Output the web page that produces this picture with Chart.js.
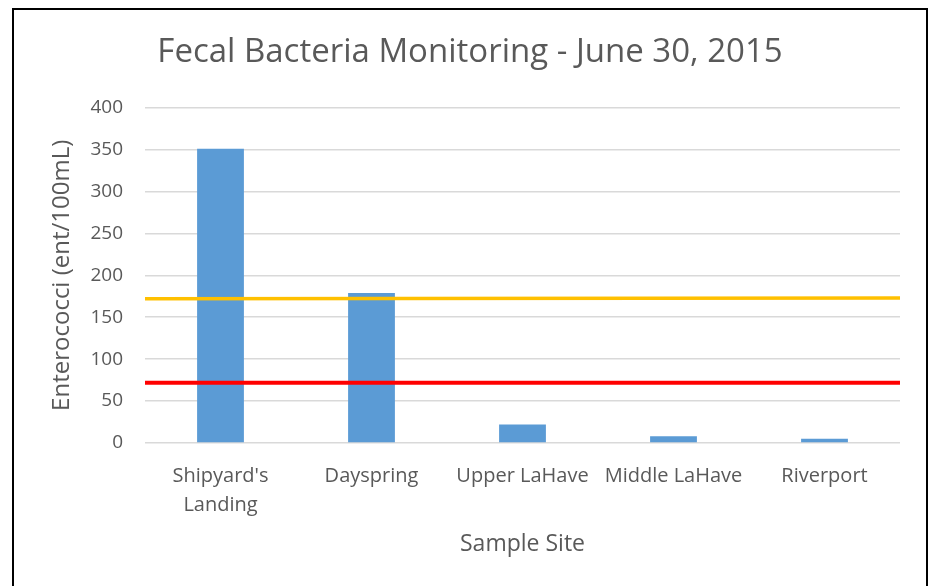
<!DOCTYPE html>
<html>
<head>
<meta charset="utf-8">
<script src="https://cdn.jsdelivr.net/npm/chart.js@4"></script>
<style>
  html, body { margin: 0; padding: 0; background: #fff; overflow: hidden; }
  #frame {
    position: absolute; left: 12px; top: 8px;
    width: 912px; height: 700px;
    border: 2px solid #000; border-bottom: none;
  }
  #chart { position: absolute; left: 0; top: 0; }
</style>
</head>
<body>
<div id="frame"></div>
<canvas id="chart" width="932" height="586"></canvas>
<script>
'use strict';

// Data
const sites = [["Shipyard's", 'Landing'], 'Dayspring', 'Upper LaHave', 'Middle LaHave', 'Riverport'];
const enterococci = [351, 179, 22, 8, 5];
const yellowLine = [172, 173];   // left end, right end
const redLine = [72, 72];
const yMax = 400;
const yStep = 50;

const TEXT = '#595959';
const FONT = "'Open Sans', sans-serif";

// horizontal reference lines run across the whole plot on a hidden 0..1 axis
function spanLine(vals) {
  return [{ x: 0, y: vals[0] }, { x: 1, y: vals[1] }];
}

new Chart(document.getElementById('chart'), {
  type: 'bar',
  data: {
    labels: sites,
    datasets: [
      {
        label: 'Enterococci',
        data: enterococci,
        backgroundColor: '#5b9bd5',
        barPercentage: 0.31,
        categoryPercentage: 1,
        grouped: false,
        order: 2,
      },
      {
        type: 'line',
        label: 'Guideline A',
        data: spanLine(yellowLine),
        xAxisID: 'x2',
        borderColor: '#ffc000',
        borderWidth: 3.5,
        pointRadius: 0,
        fill: false,
        order: 1,
      },
      {
        type: 'line',
        label: 'Guideline B',
        data: spanLine(redLine),
        xAxisID: 'x2',
        borderColor: '#ff0000',
        borderWidth: 4,
        pointRadius: 0,
        fill: false,
        order: 1,
      },
    ],
  },
  options: {
    responsive: false,
    animation: false,
    devicePixelRatio: 1,
    layout: { padding: { left: 40, right: 32, top: 0, bottom: 0 } },
    plugins: {
      legend: { display: false },
      tooltip: { enabled: false },
      title: {
        display: true,
        text: 'Fecal Bacteria Monitoring - June 30, 2015',
        color: TEXT,
        font: { family: FONT, size: 33, weight: 'normal' },
        padding: { top: 33, bottom: 35 },
      },
    },
    scales: {
      x: {
        grid: { display: false },
        border: { display: false },
        ticks: {
          color: TEXT,
          font: { family: FONT, size: 20, lineHeight: 1.45 },
          padding: 11,
          maxRotation: 0,
          autoSkip: false,
        },
        title: {
          display: true,
          text: 'Sample Site',
          color: TEXT,
          font: { family: FONT, size: 23 },
          padding: { top: 0, bottom: 28 },
        },
        afterFit: (s) => { s.height = 143; },
      },
      x2: {
        type: 'linear',
        display: false,
        offset: false,
        bounds: 'data',
        min: 0,
        max: 1,
      },
      y: {
        min: 0,
        max: yMax,
        border: { display: false },
        grid: { color: '#d9d9d9', lineWidth: 1.5, drawTicks: false },
        ticks: {
          stepSize: yStep,
          color: TEXT,
          font: { family: FONT, size: 19 },
          padding: 22,
        },
        title: {
          display: true,
          text: 'Enterococci (ent/100mL)',
          color: TEXT,
          font: { family: FONT, size: 24 },
          padding: { top: 8, bottom: 0 },
        },
        afterFit: (s) => { s.width = 105; },
      },
    },
  },
});
</script>
</body>
</html>
